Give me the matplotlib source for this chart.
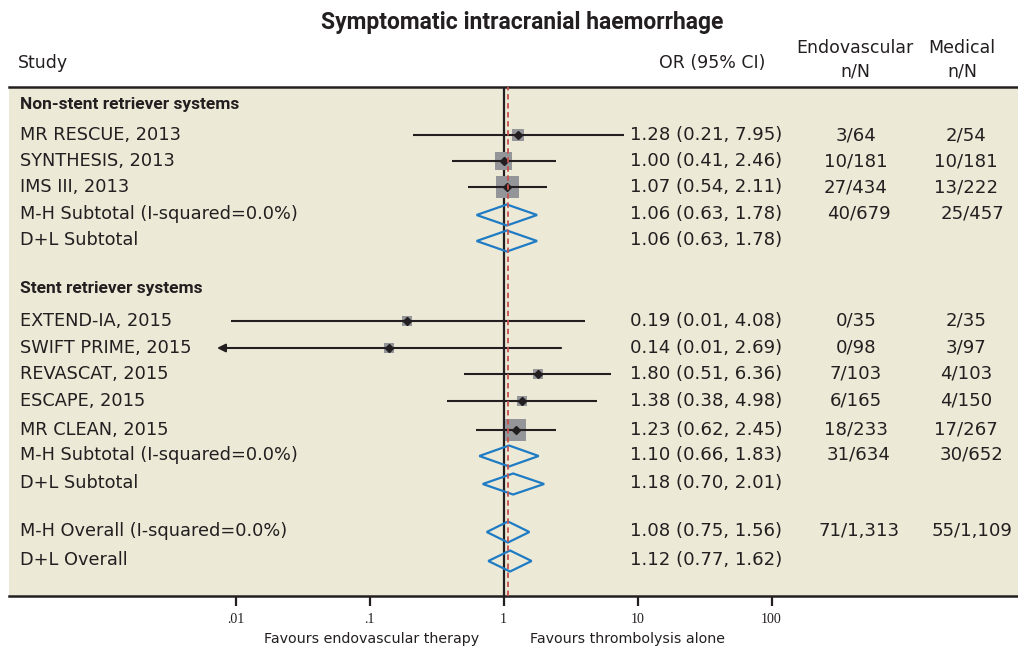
import numpy as np
import matplotlib
matplotlib.use("Agg")
import matplotlib.pyplot as plt
from matplotlib.patches import Polygon
from matplotlib.ticker import NullLocator
import matplotlib.transforms as mtransforms

# ---------------- data ----------------
study_labels = ["MR RESCUE, 2013", "SYNTHESIS, 2013", "IMS III, 2013",
                "EXTEND-IA, 2015", "SWIFT PRIME, 2015", "REVASCAT, 2015",
                "ESCAPE, 2015", "MR CLEAN, 2015"]
study_or = [1.28, 1.00, 1.07, 0.19, 0.14, 1.80, 1.38, 1.23]
study_lo = [0.21, 0.41, 0.54, 0.0093, 0.006, 0.51, 0.38, 0.62]
study_hi = [7.95, 2.46, 2.11, 4.08, 2.69, 6.36, 4.98, 2.45]
study_weight = [7.7, 17.2, 28.1, 5.3, 5.3, 5.3, 5.3, 25.7]
study_endo = ["3/64", "10/181", "27/434", "0/35", "0/98", "7/103", "6/165", "18/233"]
study_med = ["2/54", "10/181", "13/222", "2/35", "3/97", "4/103", "4/150", "17/267"]

pooled_labels = ["M-H Subtotal (I-squared=0.0%)", "D+L Subtotal",
                 "M-H Subtotal (I-squared=0.0%)", "D+L Subtotal",
                 "M-H Overall (I-squared=0.0%)", "D+L Overall"]
pooled_or = [1.06, 1.06, 1.10, 1.18, 1.08, 1.12]
pooled_lo = [0.63, 0.63, 0.66, 0.70, 0.75, 0.77]
pooled_hi = [1.78, 1.78, 1.83, 2.01, 1.56, 1.62]
pooled_endo = ["40/679", "", "31/634", "", "71/1,313", ""]
pooled_med = ["25/457", "", "30/652", "", "55/1,109", ""]

group_labels = ["Non-stent retriever systems", "Stent retriever systems"]
overall_or = 1.08

xtick_vals = [0.01, 0.1, 1, 10, 100]
xtick_labels = [".01", ".1", "1", "10", "100"]

# ---------------- layout (pixel rows) ----------------
W, H = 1018, 649
group_y = [104, 289]
study_y = [135, 161, 187, 321, 348, 374, 401, 430]
pooled_y = [215, 241, 456, 484, 532, 561]
panel_top, panel_bot = 87, 596
panel_left = 9
null_px, px_per_dec = 503.5, 134.0
arrow_clip = 10 ** ((217 - null_px) / px_per_dec)

BEIGE = "#ECE9D7"
GRAY = "#949599"
BLUE = "#1F7CC4"
RED = "#C8504E"
TXT = "#231F20"

bold_sans = ["Roboto", "DejaVu Sans"]
row_sans = ["DejaVu Sans"]
plt.rcParams["font.family"] = ["DejaVu Sans"]

fig = plt.figure(figsize=(W / 100, H / 100), dpi=100)
fig.patch.set_facecolor("white")

ax = fig.add_axes([panel_left / W, 1 - panel_bot / H, (W - panel_left) / W,
                   (panel_bot - panel_top) / H])
ax.set_facecolor(BEIGE)
ax.set_xscale("log")
xl = 10 ** ((panel_left - null_px) / px_per_dec)
xr = 10 ** ((W - null_px) / px_per_dec)
ax.set_xlim(xl, xr)
ax.set_ylim(panel_bot, panel_top)

for s in ["left", "right"]:
    ax.spines[s].set_visible(False)
for s in ["top", "bottom"]:
    ax.spines[s].set_linewidth(1.8)
    ax.spines[s].set_color(TXT)
ax.set_yticks([])
ax.set_xticks(xtick_vals)
ax.set_xticklabels(xtick_labels, family=["Liberation Serif", "DejaVu Serif"], fontsize=10, color=TXT)
ax.xaxis.set_minor_locator(NullLocator())
ax.tick_params(axis="x", length=7.5, width=1.6, color=TXT, pad=5)

# reference lines
ax.axvline(1, color=TXT, lw=1.6, zorder=2)
ax.axvline(overall_or, color=RED, lw=1.3, ls=(0, (3, 2)), zorder=5)

# study CIs and squares
for i in range(len(study_labels)):
    y = study_y[i]
    lo, hi = study_lo[i], study_hi[i]
    if lo < arrow_clip:
        ax.annotate("", xy=(arrow_clip, y), xytext=(hi, y),
                    arrowprops=dict(arrowstyle="-|>", color=TXT, lw=1.5,
                                    mutation_scale=12, shrinkA=0, shrinkB=0),
                    zorder=3)
    else:
        ax.plot([lo, hi], [y, y], color=TXT, lw=1.5, zorder=3, solid_capstyle="butt")
    side_pt = 4.3 * np.sqrt(study_weight[i]) * 0.72
    ax.scatter([study_or[i]], [y], marker="s", s=side_pt ** 2, color=GRAY,
               edgecolors="none", zorder=2.5)
    ax.plot([study_or[i]], [y], marker="D", ms=4.2, color=TXT, zorder=4)

# pooled diamonds
dh = 10.5
for i in range(len(pooled_labels)):
    y = pooled_y[i]
    pts = [(pooled_lo[i], y), (pooled_or[i], y - dh), (pooled_hi[i], y), (pooled_or[i], y + dh)]
    ax.add_patch(Polygon(pts, closed=True, fill=False, edgecolor=BLUE, lw=1.6, zorder=4))

# text helpers
tr = mtransforms.blended_transform_factory(fig.transFigure, ax.transData)
FS = 12.8
NFS = 13.1

def rowtext(xpx, y, s, ha="left", fontsize=FS, family=row_sans, **kw):
    ax.text(xpx / W, y, s, transform=tr, ha=ha, va="center", fontsize=fontsize,
            color=TXT, family=family, **kw)

for g, y in zip(group_labels, group_y):
    rowtext(20, y, g, family=bold_sans, fontweight="bold", fontsize=12.5)

for i in range(len(study_labels)):
    y = study_y[i]
    rowtext(20, y, study_labels[i])
    rowtext(630, y, f"{study_or[i]:.2f} ({study_lo[i]:.2f}, {study_hi[i]:.2f})", fontsize=NFS)
    rowtext(856, y, study_endo[i], ha="center", fontsize=NFS)
    rowtext(966, y, study_med[i], ha="center", fontsize=NFS)

for i in range(len(pooled_labels)):
    y = pooled_y[i] - 1
    rowtext(20, y, pooled_labels[i])
    rowtext(630, y, f"{pooled_or[i]:.2f} ({pooled_lo[i]:.2f}, {pooled_hi[i]:.2f})", fontsize=NFS)
    rowtext(859, y, pooled_endo[i], ha="center", fontsize=NFS)
    rowtext(972, y, pooled_med[i], ha="center", fontsize=NFS)

# header
def ftext(xpx, ypx, s, ha="left", family=row_sans, **kw):
    fig.text(xpx / W, 1 - ypx / H, s, ha=ha, va="center", color=TXT, family=family, **kw)

ftext(522, 22, "Symptomatic intracranial haemorrhage", ha="center",
      family=bold_sans, fontweight="bold", fontsize=16.5)
ftext(18, 63, "Study", fontsize=12.5)
ftext(765, 63, "OR (95% CI)", ha="right", fontsize=12.5)
ftext(855, 48, "Endovascular", ha="center", fontsize=12.5)
ftext(855, 72, "n/N", ha="center", fontsize=12.5)
ftext(962, 48, "Medical", ha="center", fontsize=12.5)
ftext(962, 72, "n/N", ha="center", fontsize=12.5)

ftext(372, 639, "Favours endovascular therapy", ha="center", fontsize=10.3)
ftext(628, 639, "Favours thrombolysis alone", ha="center", fontsize=10.3)

fig.savefig("out.png", dpi=100, facecolor="white")
